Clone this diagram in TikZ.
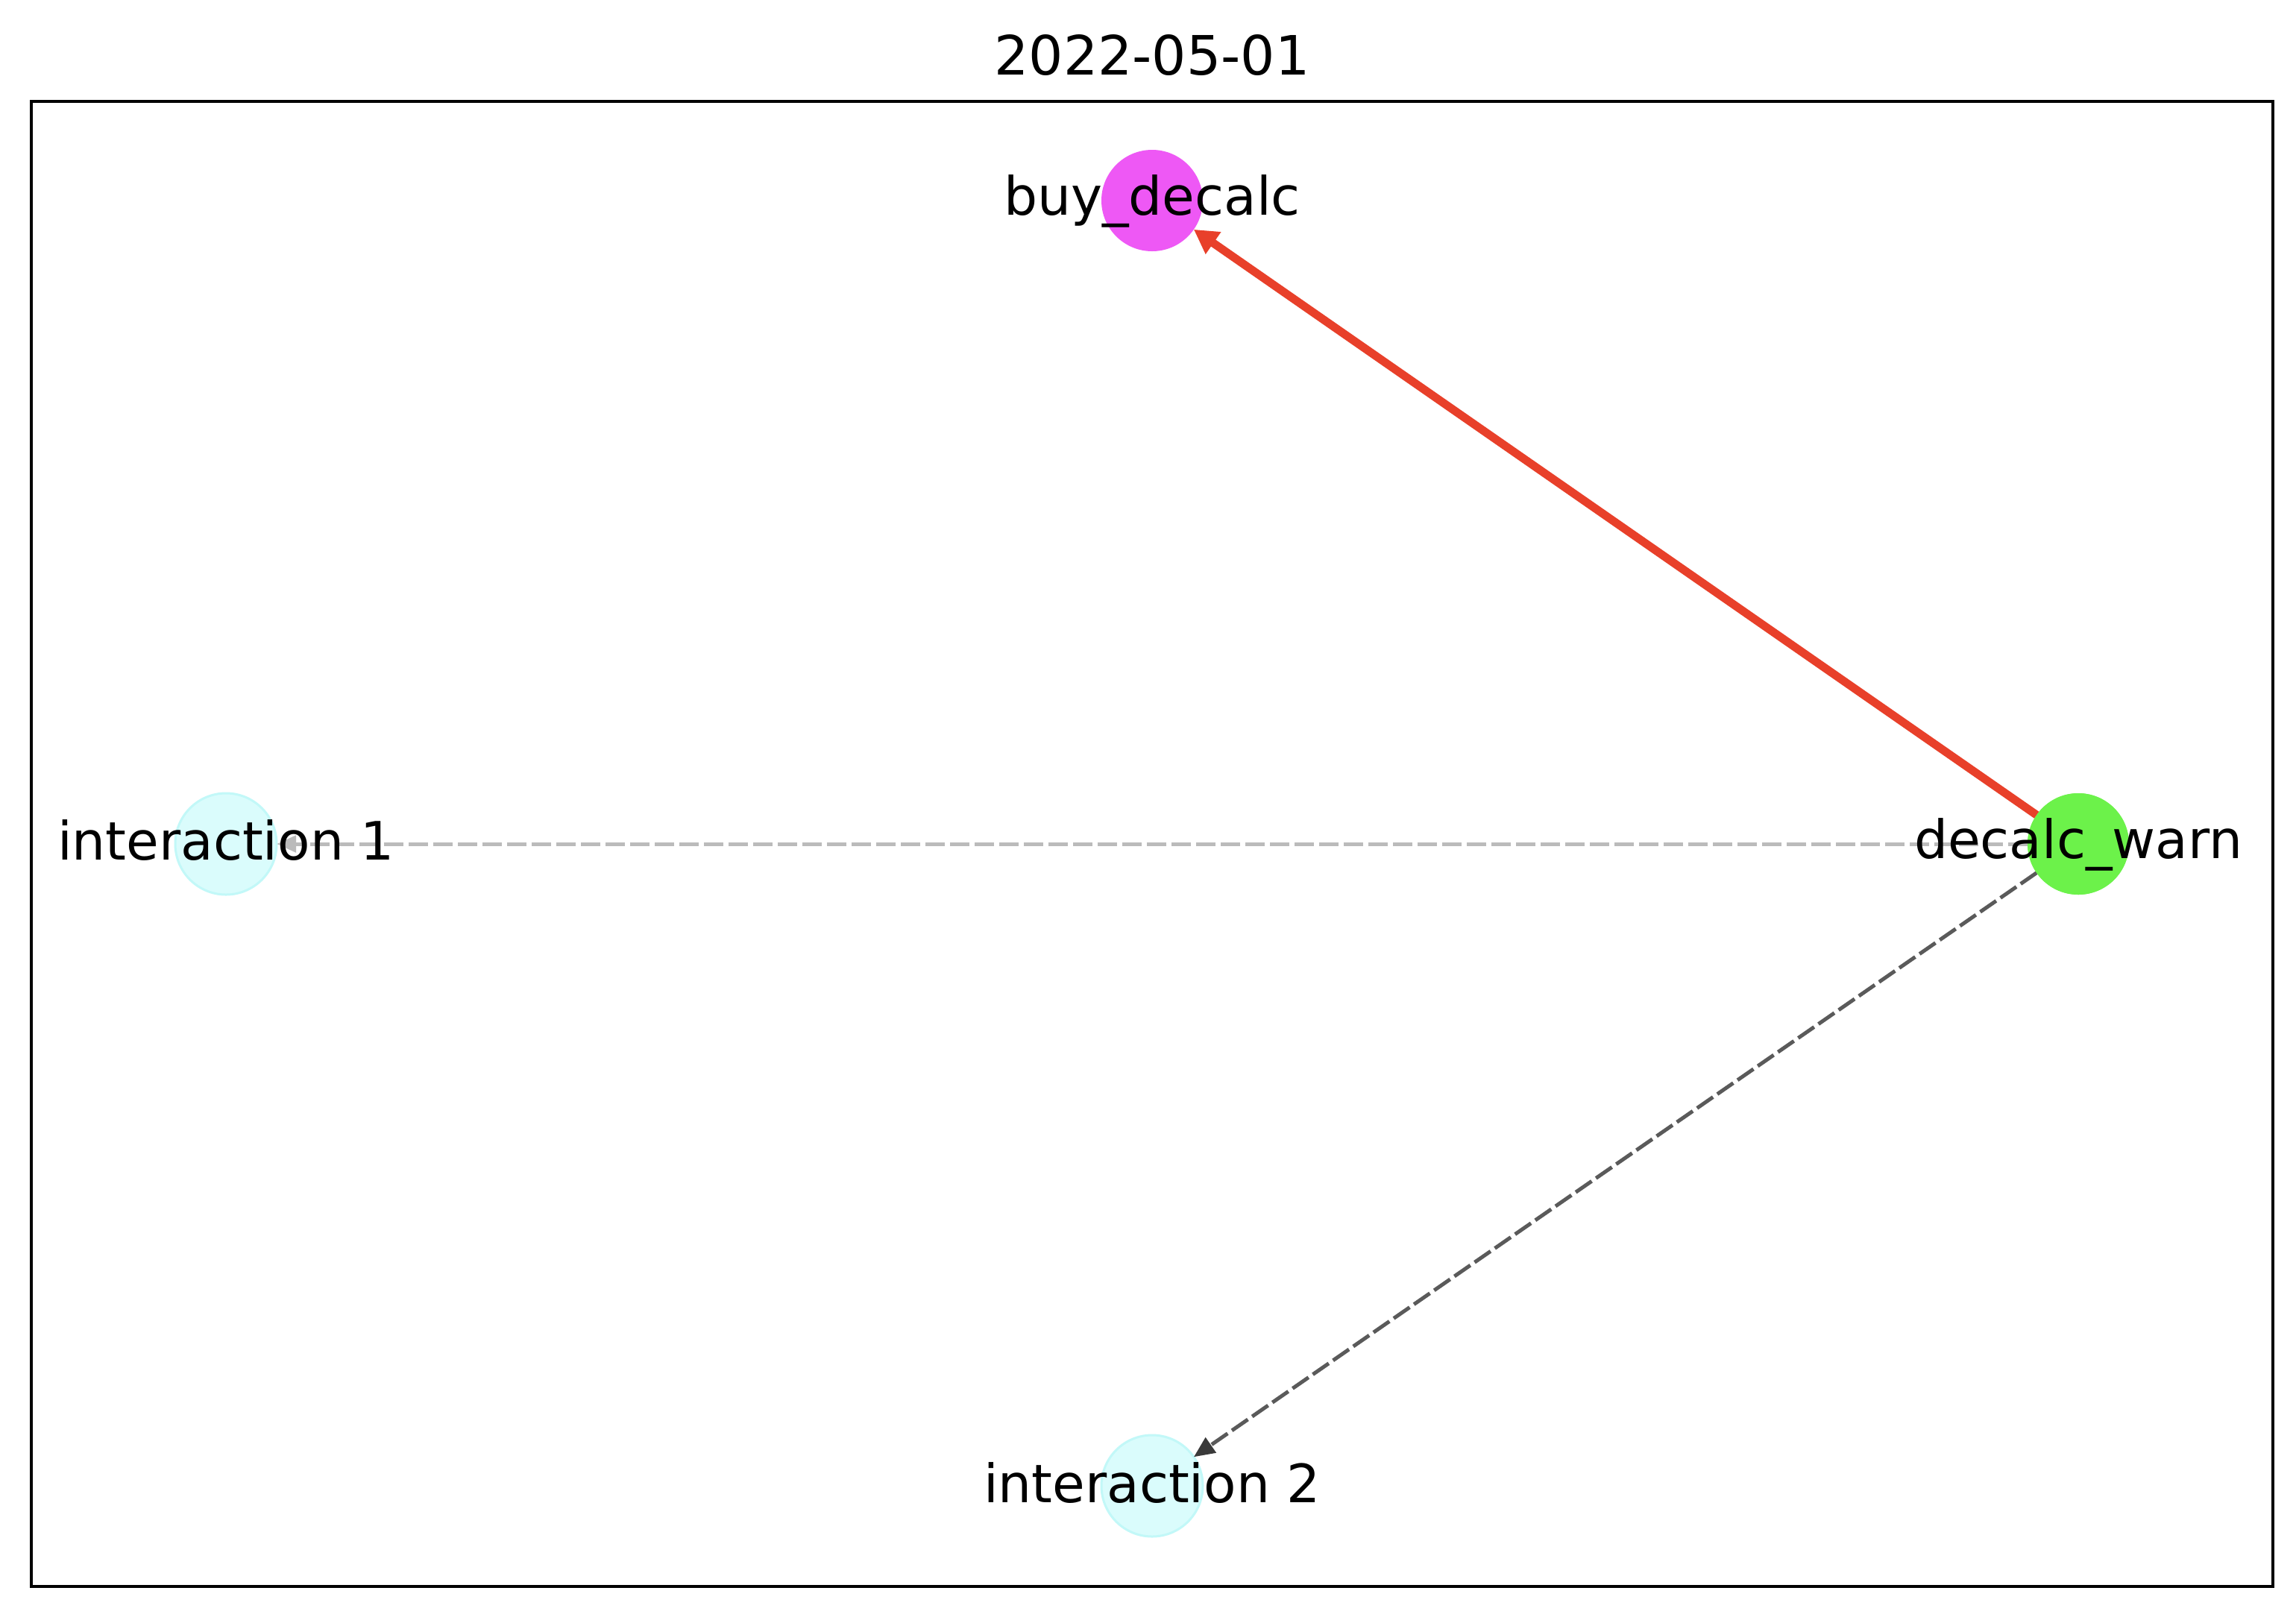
\documentclass[tikz,border=0pt]{standalone}
\usepackage{fontspec}
\setmainfont{DejaVu Sans}
\usetikzlibrary{arrows.meta}
\definecolor{magentanode}{HTML}{EE58F5}
\definecolor{greennode}{HTML}{6CF24A}
\definecolor{cyanfill}{HTML}{DAFCFC}
\definecolor{cyanedge}{HTML}{C2F8F8}
\definecolor{rededge}{HTML}{E8402A}
\definecolor{lightdash}{HTML}{BBBBBB}
\definecolor{darkdash}{HTML}{5A5A5A}
\definecolor{darkhead}{HTML}{3A3A3A}
\tikzset{
  gnode/.style={circle, minimum size=1.36cm, inner sep=0pt, outer sep=0pt},
  lbl/.style={anchor=base, inner sep=0pt, font=\fontsize{20.2}{24}\selectfont, text=black},
  strongedge/.style={draw=rededge, line width=0.11cm, -{Triangle[length=0.32cm,width=0.34cm]}},
  weakedge/.style={draw=lightdash, line width=0.05cm, dash pattern=on 0.26cm off 0.07cm, -{Triangle[length=0.26cm,width=0.22cm]}},
  midedge/.style={draw=darkdash, line width=0.05cm, dash pattern=on 0.26cm off 0.07cm, -{Triangle[length=0.28cm,width=0.24cm,color=darkhead]}},
}
\begin{document}
\begin{tikzpicture}
\useasboundingbox (0,0) rectangle (30.79,-21.73);
\fill[white] (0,0) rectangle (30.79,-21.73);
% frame
\draw[line width=0.04cm] (0.42,-1.36) rectangle (30.48,-21.28);
% title
\node[lbl, font=\fontsize{20.7}{24}\selectfont] (title) at (15.45,-1.00) {2022-05-01};
% node circles
\node[gnode, fill=magentanode] (buy) at (15.45,-2.69) {};
\node[gnode, fill=greennode] (warn) at (27.87,-11.32) {};
\node[gnode, fill=cyanfill, draw=cyanedge, line width=0.03cm] (int1) at (3.03,-11.32) {};
\node[gnode, fill=cyanfill, draw=cyanedge, line width=0.03cm] (int2) at (15.45,-19.93) {};
% edges
\draw[weakedge] (warn) -- (int1);
\draw[midedge] (warn) -- (int2);
\draw[strongedge] (warn) -- (buy);
% redraw filled node above edge starts
\node[gnode, fill=greennode] at (warn) {};
% labels
\node[lbl] (buyl) at (15.45,-2.88) {buy\_decalc};
\node[lbl] (warnl) at (27.87,-11.51) {decalc\_warn};
\node[lbl] (int1l) at (3.03,-11.53) {interaction 1};
\node[lbl] (int2l) at (15.45,-20.15) {interaction 2};
\end{tikzpicture}
\end{document}
